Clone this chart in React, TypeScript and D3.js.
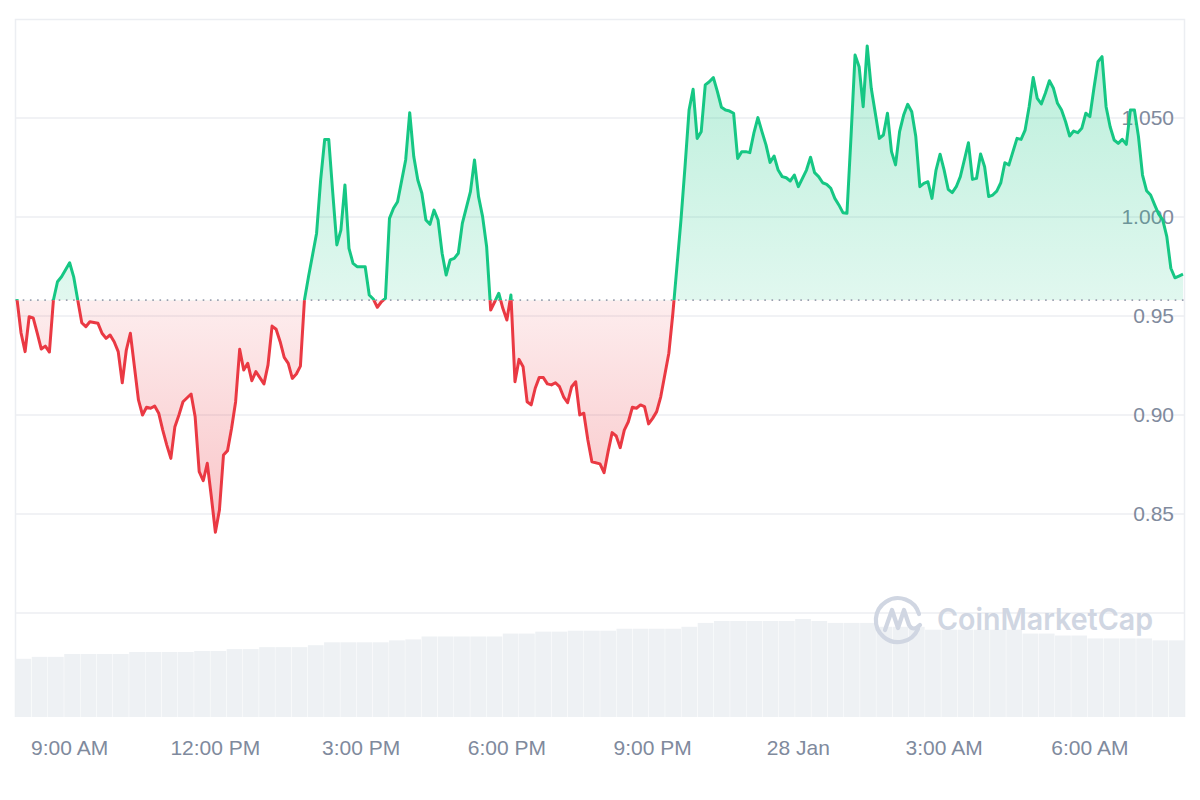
import * as d3 from 'd3';

// price series, one value per 5-minute slot counted from 27 Jan 07:55
const START = new Date(2025, 0, 27, 7, 55);
const STEP_MIN = 5;
const LAST_SLOT = 288;

const slots = [
  0, 1, 2, 3, 4, 5, 6, 7, 8, 9, 10, 11, 13, 14, 15, 16, 17, 18, 20, 21, 22, 23, 24, 25, 26, 27, 28, 29, 30, 31,
  32, 33, 34, 35, 36, 37, 38, 39, 40, 41, 43, 44, 45, 46, 47, 48, 49, 50, 51, 52, 53, 54, 55, 56, 57, 58, 59, 61, 62, 63,
  64, 65, 66, 67, 68, 69, 70, 71, 72, 74, 75, 76, 77, 78, 79, 80, 81, 82, 83, 84, 86, 87, 88, 89, 90, 91, 92, 93, 94, 96,
  97, 98, 99, 100, 101, 102, 103, 104, 105, 106, 107, 108, 109, 110, 112, 113, 114, 115, 116, 117, 118, 119, 120, 121, 122, 123, 124, 125, 126, 127,
  128, 129, 130, 131, 132, 133, 134, 135, 136, 137, 138, 139, 140, 141, 142, 144, 145, 146, 147, 148, 149, 150, 151, 152, 153, 154, 155, 156, 157, 158,
  159, 160, 161, 162, 163, 164, 165, 166, 167, 168, 169, 170, 171, 172, 173, 174, 175, 176, 177, 178, 179, 180, 181, 182, 183, 184, 185, 186, 187, 188,
  189, 190, 191, 192, 193, 195, 196, 197, 198, 199, 200, 201, 202, 203, 204, 205, 206, 207, 208, 209, 210, 211, 212, 213, 214, 215, 216, 217, 218, 219,
  220, 221, 222, 223, 224, 225, 226, 227, 228, 229, 230, 231, 232, 233, 234, 235, 236, 237, 238, 239, 240, 241, 242, 243, 244, 245, 246, 247, 248, 249,
  250, 251, 252, 253, 254, 255, 256, 257, 258, 259, 260, 261, 262, 263, 264, 265, 266, 267, 268, 269, 270, 271, 272, 273, 274, 275, 276, 277, 278, 279,
  280, 281, 282, 283, 284, 285, 286, 287, 288,
];

const prices = [
  0.9585, 0.9414, 0.932, 0.9496, 0.949, 0.9414, 0.9333, 0.9348, 0.9318, 0.9581, 0.9673, 0.9698, 0.9769, 0.9698, 0.9581, 0.9466, 0.9446, 0.9471, 0.9463, 0.9413, 0.9387, 0.9404, 0.937, 0.932, 0.9163, 0.9328, 0.9413, 0.9244, 0.9076, 0.9,
  0.9039, 0.9034, 0.9045, 0.9009, 0.8924, 0.8848, 0.8781, 0.8941, 0.9, 0.9067, 0.9106, 0.8991, 0.8714, 0.8668, 0.8756, 0.8587, 0.8408, 0.852, 0.8798, 0.882, 0.8933, 0.9067, 0.9332, 0.9227, 0.9261, 0.9173, 0.9219, 0.9157, 0.9253, 0.9449,
  0.9433, 0.937, 0.9291, 0.9261, 0.9185, 0.9207, 0.9247, 0.9581, 0.9698, 0.9918, 1.0187, 1.0392, 1.0392, 1.012, 0.9859, 0.9934, 1.0162, 0.9842, 0.9766, 0.9749, 0.9749, 0.9606, 0.9586, 0.9544, 0.9572, 0.9589, 0.9993, 1.0044, 1.0077, 1.0288,
  1.0527, 1.0305, 1.0187, 1.012, 0.9985, 0.9963, 1.0035, 0.9985, 0.9817, 0.9707, 0.9783, 0.9791, 0.9817, 0.9968, 1.0128, 1.0288, 1.0103, 1.0002, 0.985, 0.953, 0.9572, 0.9615, 0.9539, 0.948, 0.9606, 0.9168, 0.9281, 0.9244, 0.9067, 0.9051,
  0.9135, 0.919, 0.9189, 0.9157, 0.9152, 0.9163, 0.9143, 0.9092, 0.9062, 0.9143, 0.9168, 0.9, 0.9009, 0.8874, 0.8764, 0.8753, 0.8709, 0.8815, 0.8911, 0.8894, 0.8835, 0.8924, 0.8966, 0.9039, 0.9034, 0.9051, 0.9042, 0.8955, 0.8983, 0.9017,
  0.9092, 0.9202, 0.9312, 0.9514, 0.9749, 0.9985, 1.0254, 1.054, 1.0645, 1.0397, 1.0431, 1.0667, 1.0683, 1.0704, 1.0633, 1.0554, 1.054, 1.0535, 1.0524, 1.0296, 1.033, 1.033, 1.0325, 1.0423, 1.0502, 1.0431, 1.0364, 1.0276, 1.0308, 1.0237,
  1.0204, 1.0198, 1.0182, 1.0212, 1.0153, 1.0237, 1.0302, 1.0224, 1.0204, 1.0173, 1.0165, 1.0145, 1.0094, 1.0061, 1.0022, 1.0019, 1.0406, 1.0818, 1.0759, 1.0557, 1.0864, 1.065, 1.0524, 1.0397, 1.0414, 1.0524, 1.033, 1.0263, 1.0431, 1.0515,
  1.0569, 1.0532, 1.0406, 1.0153, 1.017, 1.0178, 1.0094, 1.0237, 1.0317, 1.0237, 1.014, 1.0123, 1.0153, 1.0204, 1.0288, 1.0375, 1.019, 1.0195, 1.0318, 1.0254, 1.0103, 1.0111, 1.0131, 1.0173, 1.0274, 1.0263, 1.033, 1.0397, 1.0392, 1.0439,
  1.0557, 1.0704, 1.0599, 1.0571, 1.0625, 1.0688, 1.065, 1.0574, 1.054, 1.0481, 1.0409, 1.0434, 1.0426, 1.0448, 1.0524, 1.0507, 1.065, 1.0784, 1.081, 1.0557, 1.0456, 1.0389, 1.0372, 1.0392, 1.0367, 1.054, 1.054, 1.0406, 1.0212, 1.0133,
  1.0111, 1.0061, 1.0014, 0.9985, 0.9901, 0.9741, 0.9693, 0.9702, 0.9711,
];

const openPrice = 0.958;

// 24h volume, one bucket per 20 minutes (millions USD)
const volumes = [
  60, 62, 62, 65, 65, 65, 65, 67, 67, 67, 67, 68, 68, 70, 70, 72, 72, 72, 74, 77, 77, 77, 77, 79,
  80, 83, 83, 83, 83, 83, 86, 86, 88, 88, 89, 89, 89, 91, 91, 91, 91, 93, 97, 99, 99, 99, 99, 99,
  101, 99, 97, 97, 97, 93, 93, 93, 90, 90, 90, 90, 90, 90, 86, 86, 84, 84, 81, 81, 81, 81, 79, 79,
];

const gridValues = [0.8, 0.85, 0.9, 0.95, 1.0, 1.05];
const yTicks = [0.85, 0.9, 0.95, 1.0, 1.05];
const yTickLabels = ['0.85', '0.90', '0.95', '1.000', '1.050'];
const xTickHours = [9, 12, 15, 18, 21, 24, 27, 30];
const xTickLabels = ['9:00 AM', '12:00 PM', '3:00 PM', '6:00 PM', '9:00 PM', '28 Jan', '3:00 AM', '6:00 AM'];

const GREEN = '#16c784';
const RED = '#ea3943';
const GRID = '#eceef2';
const LABEL = '#808a9d';

type Pt = { t: Date; v: number };

const App = () => {
  const width = 1200;
  const height = 800;
  const frame = { left: 15.5, right: 1184.5, top: 19.5, bottom: 717 };

  const slotTime = (s: number) => new Date(START.getTime() + s * STEP_MIN * 60000);
  const data: Pt[] = slots.map((s, i) => ({ t: slotTime(s), v: prices[i] }));

  const x = d3.scaleTime().domain([START, slotTime(LAST_SLOT)]).range([17, 1183]);
  const y = d3.scaleLinear().domain([0.8, 1.1]).range([613, 19]);
  const yv = d3.scaleLinear().domain([0, 100]).range([frame.bottom, 620]);
  const xb = d3
    .scaleBand<number>()
    .domain(volumes.map((_, i) => i))
    .range([frame.left, frame.right])
    .paddingInner(0.03);

  const yBase = y(openPrice);

  const area = d3
    .area<Pt>()
    .x((d) => x(d.t))
    .y0(yBase)
    .y1((d) => y(d.v));
  const line = d3
    .line<Pt>()
    .x((d) => x(d.t))
    .y((d) => y(d.v));

  const areaPath = area(data) ?? '';
  const linePath = line(data) ?? '';

  const font = '"Liberation Sans", Arial, Helvetica, sans-serif';

  return (
    <svg
      width={width}
      height={height}
      style={{ position: 'absolute', left: 0, top: 0, display: 'block' }}
    >
      <defs>
        <clipPath id="above">
          <rect x={0} y={0} width={width} height={yBase} />
        </clipPath>
        <clipPath id="below">
          <rect x={0} y={yBase} width={width} height={height - yBase} />
        </clipPath>
        <linearGradient id="gUp" gradientUnits="userSpaceOnUse" x1={0} x2={0} y1={y(1.09)} y2={yBase}>
          <stop offset="0" stopColor={GREEN} stopOpacity={0.3} />
          <stop offset="1" stopColor={GREEN} stopOpacity={0.13} />
        </linearGradient>
        <linearGradient id="gDown" gradientUnits="userSpaceOnUse" x1={0} x2={0} y1={yBase} y2={y(0.84)}>
          <stop offset="0" stopColor={RED} stopOpacity={0.09} />
          <stop offset="1" stopColor={RED} stopOpacity={0.3} />
        </linearGradient>
      </defs>

      <rect x={0} y={0} width={width} height={height} fill="#fff" />

      {/* frame */}
      <path
        d={`M${frame.left},${frame.bottom}V${frame.top}H${frame.right}V${frame.bottom}`}
        fill="none"
        stroke={GRID}
        strokeWidth={1.5}
      />

      {/* horizontal grid */}
      {gridValues.map((g) => (
        <line key={g} x1={frame.left} x2={frame.right} y1={y(g)} y2={y(g)} stroke={GRID} strokeWidth={1.5} />
      ))}

      {/* volume */}
      <g fill="#eef1f4">
        {volumes.map((v, i) => (
          <rect key={i} x={xb(i)} y={yv(v)} width={xb.bandwidth()} height={yv(0) - yv(v)} />
        ))}
      </g>

      {/* watermark */}
      <g transform="translate(898,619)" fill="none" stroke="#d0d6e2" strokeWidth={4.2} strokeLinecap="round" strokeLinejoin="round">
        <path d="M20,10 A22,22 0 1 1 21,-5" />
        <path d="M-13,11 L-6,-9 L0,9 L6,-9 L11,6 Q15,13 22,6" />
      </g>
      <text
        x={937}
        y={630}
        fontFamily='Inter, "Noto Sans", sans-serif'
        fontWeight={600}
        fontSize={30}
        fill="#d0d6e2"
        textLength={216}
        lengthAdjust="spacingAndGlyphs"
      >
        CoinMarketCap
      </text>

      {/* y labels */}
      {yTicks.map((t, i) => (
        <text
          key={t}
          x={1174}
          y={y(t)}
          dy="0.35em"
          textAnchor="end"
          fontFamily={font}
          fontSize={21}
          fill={LABEL}
        >
          {yTickLabels[i]}
        </text>
      ))}

      {/* fills */}
      <path d={areaPath} fill="url(#gUp)" clipPath="url(#above)" />
      <path d={areaPath} fill="url(#gDown)" clipPath="url(#below)" />

      {/* open price reference */}
      <line
        x1={frame.left}
        x2={frame.right}
        y1={yBase}
        y2={yBase}
        stroke="#9aa0b0"
        strokeWidth={1.6}
        strokeDasharray="1.6 5.6"
      />

      {/* price line */}
      <path d={linePath} fill="none" stroke={GREEN} strokeWidth={3} strokeLinejoin="round" clipPath="url(#above)" />
      <path d={linePath} fill="none" stroke={RED} strokeWidth={3} strokeLinejoin="round" clipPath="url(#below)" />

      {/* x labels */}
      {xTickHours.map((h, i) => (
        <text
          key={h}
          x={x(new Date(2025, 0, 27, h, 0))}
          y={755}
          textAnchor="middle"
          fontFamily={font}
          fontSize={21}
          fill={LABEL}
        >
          {xTickLabels[i]}
        </text>
      ))}
    </svg>
  );
};

export default App;
